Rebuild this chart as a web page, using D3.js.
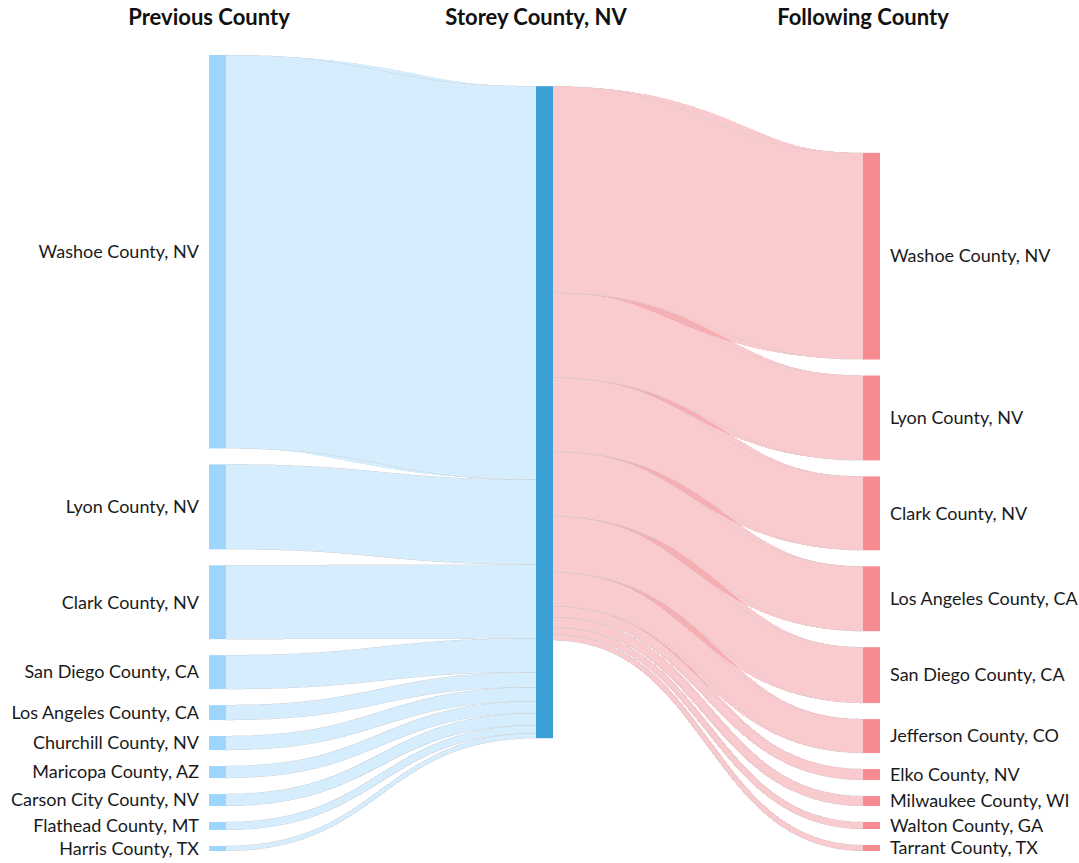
<!DOCTYPE html>
<html>
<head>
<meta charset="utf-8">
<script src="https://cdn.jsdelivr.net/npm/d3@7"></script>
<style>
  body { margin: 0; background: #fff; }
  svg { display: block; font-family: Lato, "Open Sans", sans-serif; }
</style>
</head>
<body>
<svg id="chart"></svg>
<script>

// ---- data ----
const centerCounty = "Storey County, NV";

const previousCounties = [
  "Washoe County, NV", "Lyon County, NV", "Clark County, NV", "San Diego County, CA",
  "Los Angeles County, CA", "Churchill County, NV", "Maricopa County, AZ",
  "Carson City County, NV", "Flathead County, MT", "Harris County, TX"
];
const previousValues = [394, 85, 74, 34, 15, 14, 12, 12, 8, 5];

const followingCounties = [
  "Washoe County, NV", "Lyon County, NV", "Clark County, NV", "Los Angeles County, CA",
  "San Diego County, CA", "Jefferson County, CO", "Elko County, NV",
  "Milwaukee County, WI", "Walton County, GA", "Tarrant County, TX"
];
const followingValues = [207, 85, 74, 65, 56, 34, 11, 10, 7, 6];

const columnTitles = ["Previous County", centerCounty, "Following County"];

// ---- settings ----
const width = 1079;
const height = 863;
const extent = { x0: 209, x1: 880, y0: 55, y1: 851 };
const nodeWidth = 17;
const nodePadding = 16;
const iterations = 32;

const nodeColors = ["#9dd5fc", "#3aa0d5", "#f78b92"];
const linkColors = ["#a3d6fb", "#f48c93"];
const textColor = "#1a1a1a";

const svg = d3.select("#chart")
  .attr("width", width)
  .attr("height", height);

// ---- graph ----
const nodes = [];
const links = [];
const center = { name: centerCounty, column: 1 };
previousCounties.forEach((name, i) => {
  const node = { name: name, column: 0 };
  nodes.push(node);
  links.push({ source: node, target: center, value: previousValues[i], side: 0 });
});
nodes.push(center);
followingCounties.forEach((name, i) => {
  const node = { name: name, column: 2 };
  nodes.push(node);
  links.push({ source: center, target: node, value: followingValues[i], side: 1 });
});

// ---- sankey layout (same steps as the classic d3-sankey) ----
const nodeCenter = n => (n.y0 + n.y1) / 2;

const sankeyLayout = () => {
  nodes.forEach(n => { n.sourceLinks = []; n.targetLinks = []; });
  links.forEach(l => {
    l.source.sourceLinks.push(l);
    l.target.targetLinks.push(l);
  });
  nodes.forEach(n => {
    n.value = Math.max(d3.sum(n.sourceLinks, l => l.value), d3.sum(n.targetLinks, l => l.value));
  });

  const xScale = d3.scaleLinear()
    .domain([0, 2])
    .range([extent.x0, extent.x1 - nodeWidth]);
  nodes.forEach(n => {
    n.x0 = xScale(n.column);
    n.x1 = n.x0 + nodeWidth;
  });

  const columns = d3.groups(nodes, n => n.column)
    .sort((a, b) => a[0] - b[0])
    .map(g => g[1]);

  const ky = d3.min(columns, c =>
    (extent.y1 - extent.y0 - (c.length - 1) * nodePadding) / d3.sum(c, n => n.value));
  columns.forEach(c => c.forEach((n, i) => {
    n.y0 = i;
    n.y1 = i + n.value * ky;
  }));
  links.forEach(l => l.width = l.value * ky);

  const resolveCollisions = () => {
    columns.forEach(c => {
      let y = extent.y0;
      let node;
      c.sort((a, b) => a.y0 - b.y0);
      for (let i = 0; i < c.length; ++i) {
        node = c[i];
        const dy = y - node.y0;
        if (dy > 0) { node.y0 += dy; node.y1 += dy; }
        y = node.y1 + nodePadding;
      }
      let dy = y - nodePadding - extent.y1;
      if (dy > 0) {
        y = (node.y0 -= dy);
        node.y1 -= dy;
        for (let i = c.length - 2; i >= 0; --i) {
          node = c[i];
          dy = node.y1 + nodePadding - y;
          if (dy > 0) { node.y0 -= dy; node.y1 -= dy; }
          y = node.y0;
        }
      }
    });
  };

  const relaxLeftToRight = alpha => {
    columns.forEach(c => c.forEach(n => {
      if (n.targetLinks.length) {
        const target = d3.sum(n.targetLinks, l => nodeCenter(l.source) * l.value) /
          d3.sum(n.targetLinks, l => l.value);
        const dy = (target - nodeCenter(n)) * alpha;
        n.y0 += dy; n.y1 += dy;
      }
    }));
  };

  const relaxRightToLeft = alpha => {
    columns.slice().reverse().forEach(c => c.forEach(n => {
      if (n.sourceLinks.length) {
        const target = d3.sum(n.sourceLinks, l => nodeCenter(l.target) * l.value) /
          d3.sum(n.sourceLinks, l => l.value);
        const dy = (target - nodeCenter(n)) * alpha;
        n.y0 += dy; n.y1 += dy;
      }
    }));
  };

  resolveCollisions();
  for (let alpha = 1, n = iterations; n > 0; --n) {
    relaxRightToLeft(alpha *= 0.99);
    resolveCollisions();
    relaxLeftToRight(alpha);
    resolveCollisions();
  }

  // link breadths
  nodes.forEach(n => {
    n.sourceLinks.sort((a, b) => a.target.y0 - b.target.y0);
    n.targetLinks.sort((a, b) => a.source.y0 - b.source.y0);
  });
  nodes.forEach(n => {
    let ys = n.y0;
    let yt = n.y0;
    n.sourceLinks.forEach(l => { l.y0 = ys + l.width / 2; ys += l.width; });
    n.targetLinks.forEach(l => { l.y1 = yt + l.width / 2; yt += l.width; });
  });
};

sankeyLayout();

// ---- links ----
const linkPath = d3.linkHorizontal()
  .source(d => [d.source.x1, d.y0])
  .target(d => [d.target.x0, d.y1]);

// thin grey line along both edges of a link
const edgePath = offset => d3.linkHorizontal()
  .source(d => [d.source.x1, d.y0 + offset * d.width / 2])
  .target(d => [d.target.x0, d.y1 + offset * d.width / 2]);

const linksGroup = svg.append("g")
  .attr("class", "links")
  .attr("fill", "none")
  .style("shape-rendering", "crispEdges");

linksGroup.selectAll(".link")
  .data(links)
  .join("path")
    .attr("class", "link")
    .attr("d", linkPath)
    .attr("stroke", d => linkColors[d.side])
    .attr("stroke-opacity", 0.45)
    .attr("stroke-width", d => Math.max(1, d.width));

[-1, 1].forEach(offset => {
  linksGroup.selectAll(`.link-edge-${offset}`)
    .data(links)
    .join("path")
      .attr("class", `link-edge-${offset}`)
      .attr("d", edgePath(offset))
      .attr("stroke", "#c8c8c8")
      .attr("stroke-opacity", 0.35)
      .attr("stroke-width", 1);
});

// ---- nodes ----
svg.append("g")
  .attr("class", "nodes")
  .selectAll("rect")
  .data(nodes)
  .join("rect")
    .attr("x", d => d.x0)
    .attr("y", d => d.y0)
    .attr("width", d => d.x1 - d.x0)
    .attr("height", d => Math.max(1, d.y1 - d.y0))
    .attr("fill", d => nodeColors[d.column]);

// ---- labels ----
svg.append("g")
  .attr("class", "labels")
  .selectAll("text")
  .data(nodes.filter(d => d.column !== 1))
  .join("text")
    .attr("x", d => d.column === 0 ? d.x0 - 10 : d.x1 + 10)
    .attr("y", d => nodeCenter(d))
    .attr("dy", "0.35em")
    .attr("text-anchor", d => d.column === 0 ? "end" : "start")
    .style("font-size", "18px")
    .style("fill", textColor)
    .text(d => d.name);

// ---- column titles ----
const titleNodes = [nodes.find(n => n.column === 0), center, nodes.find(n => n.column === 2)];
svg.append("g")
  .attr("class", "titles")
  .selectAll("text")
  .data(columnTitles)
  .join("text")
    .attr("x", (d, i) => titleNodes[i].x0)
    .attr("y", 25)
    .attr("text-anchor", "middle")
    .style("font-size", "22px")
    .style("font-weight", 700)
    .style("fill", "#111")
    .text(d => d);

</script>
</body>
</html>
